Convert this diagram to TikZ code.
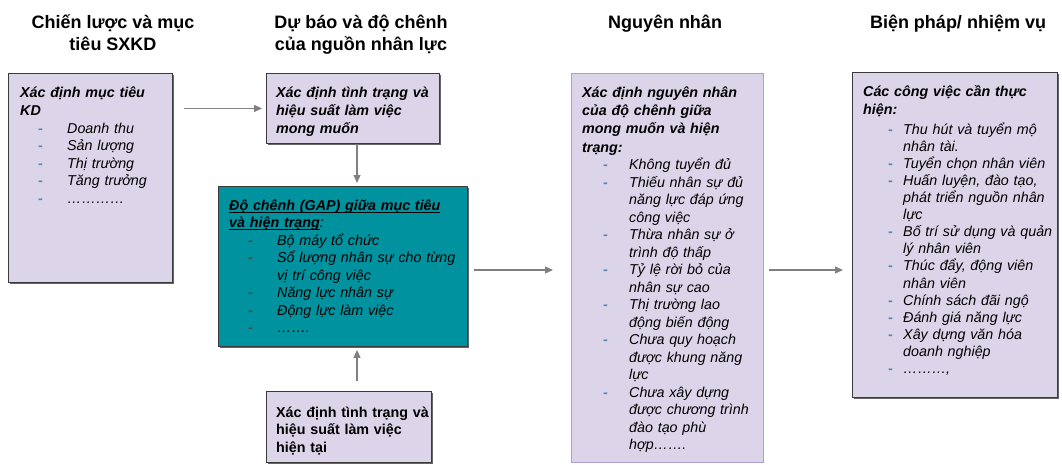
\documentclass[tikz,border=0pt]{standalone}
\usepackage{fontspec}
\setmainfont{Liberation Sans}
\usetikzlibrary{arrows.meta,shadows}

\definecolor{boxfill}{HTML}{DCD5E9}
\definecolor{gapfill}{HTML}{00939F}
\definecolor{edgec}{HTML}{3A3A3A}
\definecolor{softedge}{HTML}{ABA0CC}
\definecolor{dashc}{HTML}{5F86B3}
\definecolor{arrowc}{HTML}{808080}

% list item: coloured dash, hanging indent for wrapped lines
\newlength\dashind
\newlength\itmind
\colorlet{dashnow}{dashc}
\newcommand\bitm[1]{\par\hangindent=\itmind\hangafter=1\noindent
  \hbox to\itmind{\hskip\dashind\textcolor{dashnow}{\upshape\bfseries -}\hfil}#1}
\newcommand\hdr[1]{{\bfseries\itshape\fontsize{14.3}{18.3}\selectfont\noindent\strut#1\par}}
% underlined text with a rule a little below the baseline
\newcommand\undl[1]{\setbox0\hbox{#1}\rlap{\raisebox{-2.4pt}{\rule{\wd0}{0.9pt}}}\box0}

\tikzset{
  panel/.style={draw=edgec, line width=0.9pt, fill=boxfill, inner sep=0pt,
    anchor=north west,
    drop shadow={shadow xshift=1.3pt, shadow yshift=-1.3pt, fill=black!60, opacity=1}},
  txt/.style={anchor=north west, inner sep=0pt, text width=260pt, align=left,
    font=\fontsize{14.3}{17.5}\selectfont\itshape},
  colhead/.style={anchor=north, inner sep=0pt, align=center,
    font=\fontsize{18}{22}\selectfont\bfseries},
  link/.style={draw=arrowc, line width=1.2pt, -{Triangle[length=8pt,width=7pt]}}
}

\begin{document}
\begin{tikzpicture}[x=1pt,y=-1pt]
\useasboundingbox (0,0) rectangle (1062,464);

% column headings
\node[colhead] (h1) at (113,12.6) {\strut Chiến lược và mục\\tiêu SXKD};
\node[colhead] (h2) at (361,12.6) {\strut Dự báo và độ chênh\\của nguồn nhân lực};
\node[colhead] (h3) at (665,12.6) {\strut Nguyên nhân};
\node[colhead] (h4) at (958,12.6) {\strut Biện pháp/ nhiệm vụ};

% boxes
\node[panel, minimum width=164pt, minimum height=209pt] (b1) at (8,73) {};
\node[panel, minimum width=173pt, minimum height=70pt] (b2) at (266,73) {};
\node[panel, fill=gapfill, minimum width=249pt, minimum height=160pt] (gap) at (218,186) {};
\node[panel, minimum width=165pt, minimum height=71pt] (bot) at (266,391) {};
\node[draw=softedge, line width=0.8pt, fill=boxfill, inner sep=0pt, anchor=north west,
      minimum width=192pt, minimum height=389pt] (nn) at (571,73) {};
\node[panel, minimum width=205pt, minimum height=325pt] (rb) at (852,72) {};

% box texts
\node[txt] (t1) at (20,84.2) {\setlength\parskip{0pt}%
  \setlength\dashind{18pt}\setlength\itmind{47pt}%
  \hdr{Xác định mục tiêu\newline KD}%
  \bitm{Doanh thu}\bitm{Sản lượng}\bitm{Thị trường}\bitm{Tăng trưởng}%
  \bitm{…………}\par};

\node[txt] (t2) at (276,84.2) {\setlength\parskip{0pt}%
  \hdr{Xác định tình trạng và\newline hiệu suất làm việc\newline mong muốn}};

\node[txt] (tg) at (229,197.75) {\setlength\parskip{0pt}%
  \setlength\dashind{19pt}\setlength\itmind{48pt}\colorlet{dashnow}{black!70}%
  {\bfseries\noindent\strut\undl{Độ chênh (GAP) giữa mục tiêu}\newline
   \undl{và hiện trạng}\mdseries:\par}%
  \bitm{Bộ máy tổ chức}%
  \bitm{Sổ lượng nhân sự cho từng\newline vị trí công việc}%
  \bitm{Năng lực nhân sự}\bitm{Động lực làm việc}\bitm{…….}\par};

\node[txt, font=\fontsize{14.3}{17.5}\selectfont\bfseries] (tb) at (276,404.75)
  {\setlength\parskip{0pt}\noindent\strut Xác định tình trạng và\newline
   hiệu suất làm việc\newline hiện tại\par};

\node[txt] (tn) at (582,84.2) {\setlength\parskip{0pt}%
  \setlength\dashind{21pt}\setlength\itmind{47pt}%
  \hdr{Xác định nguyên nhân\newline của độ chênh giữa\newline mong muốn và hiện\newline trạng:}%
  \bitm{Không tuyển đủ}%
  \bitm{Thiếu nhân sự đủ\newline năng lực đáp ứng\newline công việc}%
  \bitm{Thừa nhân sự ở\newline trình độ thấp}%
  \bitm{Tỷ lệ rời bỏ của\newline nhân sự cao}%
  \bitm{Thị trường lao\newline động biến động}%
  \bitm{Chưa quy hoạch\newline được khung năng\newline lực}%
  \bitm{Chưa xây dựng\newline được chương trình\newline đào tạo phù\newline hợp…….}\par};

\node[txt, font=\fontsize{14.3}{17.1}\selectfont\itshape] (tr) at (863,83.2) {\setlength\parskip{0pt}%
  \setlength\dashind{25pt}\setlength\itmind{40pt}%
  \hdr{Các công việc cần thực\newline hiện:}\vspace{2.5pt}%
  \bitm{Thu hút và tuyển mộ\newline nhân tài.}%
  \bitm{Tuyển chọn nhân viên}%
  \bitm{Huấn luyện, đào tạo,\newline phát triển nguồn nhân\newline lực}%
  \bitm{Bố trí sử dụng và quản\newline lý nhân viên}%
  \bitm{Thúc đẩy, động viên\newline nhân viên}%
  \bitm{Chính sách đãi ngộ}%
  \bitm{Đánh giá năng lực}%
  \bitm{Xây dựng văn hóa\newline doanh nghiệp}%
  \bitm{………,}\par};

% connectors
\coordinate (ax) at (357,0);
\coordinate (ay) at (0,270);
\draw[link, shorten <=11pt, shorten >=4pt] (b2.west -| b1.east) -- (b2.west);
\draw[link, shorten >=3pt] (b2.south -| ax) -- (gap.north -| ax);
\draw[link, shorten <=10pt, shorten >=3pt] (bot.north -| ax) -- (gap.south -| ax);
\draw[link, shorten <=6pt, shorten >=18pt] (gap.east |- ay) -- (nn.west |- ay);
\draw[link, shorten <=5pt, shorten >=9pt] (nn.east |- ay) -- (rb.west |- ay);
\end{tikzpicture}
\end{document}
